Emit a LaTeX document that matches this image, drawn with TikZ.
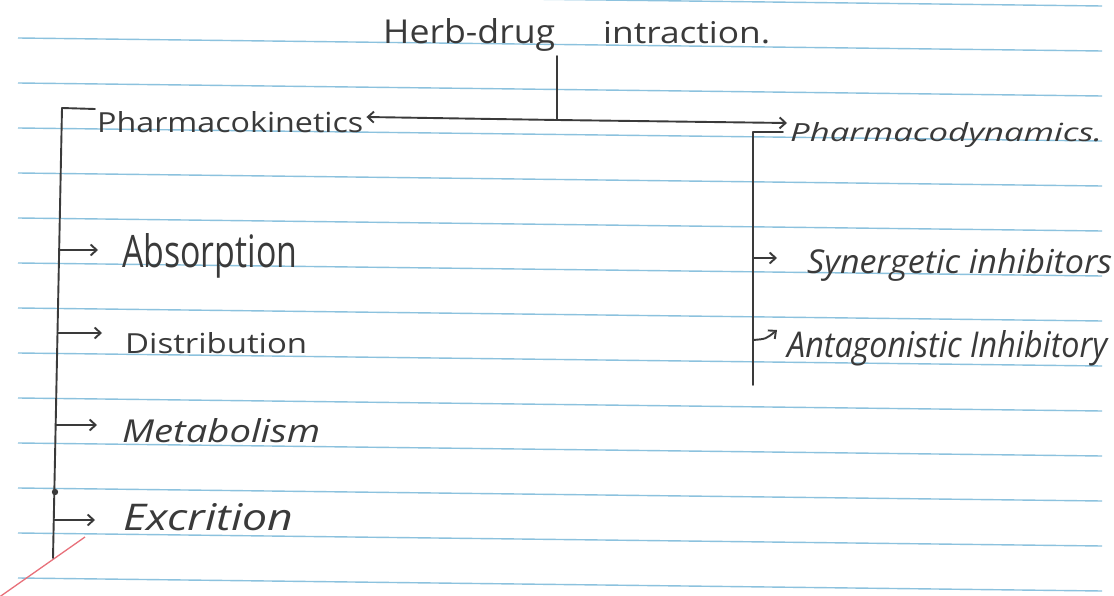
\documentclass[tikz,border=0pt]{standalone}
\usepackage{fontspec}
\setmainfont{Open Sans}
\usetikzlibrary{arrows.meta,calc}
\definecolor{penc}{HTML}{3A3A3A}
\definecolor{rulec}{HTML}{8CC2DE}
\definecolor{marginc}{HTML}{E8707A}
\newcommand{\hwtext}[3]{\resizebox{#1pt}{#2pt}{#3}}
\begin{document}
\begin{tikzpicture}[x=1pt,y=-1pt,
  pen/.style={draw=penc, line width=1.9pt, line cap=round},
  arr/.style={pen, -{Straight Barb[length=6pt,width=11pt]}},
  txt/.style={inner sep=0pt, anchor=base west, text=penc},
  ruling/.style={draw=rulec, line width=1.4pt}]
\useasboundingbox (0,0) rectangle (1114,596);
\fill[white] (0,0) rectangle (1114,596);
\begin{scope}
\clip (0,0) rectangle (1114,596);
\foreach \k in {-1,...,12} \draw[ruling] (18,{38+45*\k}) -- (1102,{51+45*\k});
\draw[marginc, line width=1.3pt] (-2,598) -- (85,537);
\end{scope}

% texts
\node[txt] (title) at (383,44) {\hwtext{172}{25}{Herb-drug}\hspace{48pt}\hwtext{167}{22}{intraction.}};
\node[txt] (pk) at (97,133) {\hwtext{266}{21}{Pharmacokinetics}};
\node[txt] (abs) at (122,267) {\hwtext{175}{34}{Absorption}};
\node[txt] (dis) at (125,353) {\hwtext{182}{21}{Distribution}};
\node[txt] (met) at (122,442) {\hwtext{198}{24}{\itshape Metabolism}};
\node[txt] (exc) at (123,530) {\hwtext{170}{27}{\itshape Excrition}};
\node[txt] (pd) at (790,142) {\hwtext{312}{19}{\itshape Pharmacodynamics.}};
\node[txt] (syn) at (807,273) {\hwtext{305}{25}{\itshape Synergetic inhibitors}};
\node[txt] (ant) at (787,357) {\hwtext{320}{27}{\itshape Antagonistic Inhibitory}};

% main split
\coordinate (j) at (557,120);
\draw[pen, shorten <=4pt] (title.south -| j) -- (j);
\draw[arr] (j) -- ($(pk.base east)+(3,-16)$);
\draw[arr] (j) -- ($(pd.base west)+(-3,-19)$);

% left spine
\coordinate (sT) at (62,108);
\coordinate (sB) at (53,558);
\draw[pen] (sT) -- (sB);
\draw[pen] (sT) -- ($(pk.base west)+(-2,-24)$);
\coordinate (sA) at (59.2,250);
\coordinate (sD) at (57.5,333);
\coordinate (sM) at (55.7,425);
\coordinate (sE) at (53.8,520);
\draw[arr] (sA) -- ($(abs.base west)+(-24,-17)$);
\draw[arr] (sD) -- ($(dis.base west)+(-23,-20)$);
\draw[arr] (sM) -- ($(met.base west)+(-25,-17)$);
\draw[arr] (sE) -- ($(exc.base west)+(-28,-10)$);
\fill[penc] (55,492) circle (3.2pt);

% right spine
\coordinate (rT) at (753,132);
\coordinate (rB) at (753,385);
\draw[pen] (rT) -- (rB);
\draw[pen] (rT) -- ($(pd.base west)+(-7,-10)$);
\coordinate (rS) at (753,258);
\coordinate (rA) at (753,340);
\draw[arr] (rS) -- ($(syn.base west)+(-30,-15)$);
\draw[arr] (rA) .. controls (766,339) .. ($(ant.base west)+(-10,-27)$);
\end{tikzpicture}
\end{document}
